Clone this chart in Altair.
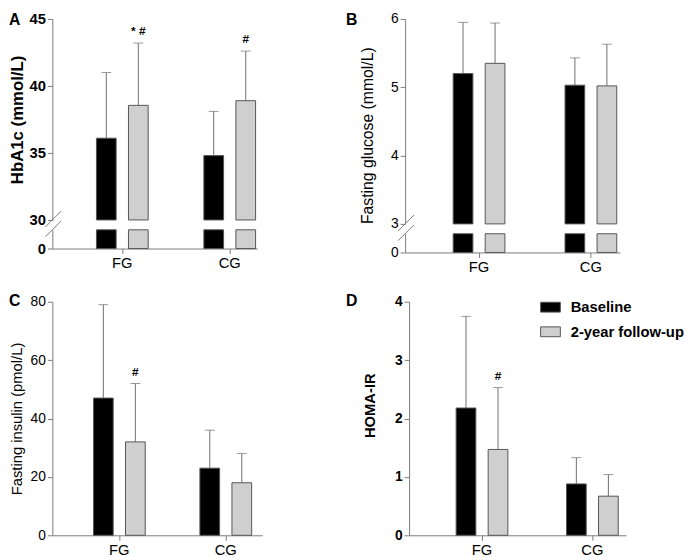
import altair as alt
import pandas as pd

# ---------------- data ----------------
groups = ["FG", "CG"]
series = ["Baseline", "2-year follow-up"]

hba1c_base = [36.1, 34.8]
hba1c_base_sd = [4.9, 3.3]
hba1c_follow = [38.55, 38.9]
hba1c_follow_sd = [4.65, 3.7]
hba1c_sig = ["* #", "#"]

glu_base = [5.20, 5.03]
glu_base_sd = [0.75, 0.40]
glu_follow = [5.35, 5.02]
glu_follow_sd = [0.59, 0.61]
glu_sig = ["", ""]

ins_base = [47, 23]
ins_base_sd = [32, 13]
ins_follow = [32, 18]
ins_follow_sd = [20, 10]
ins_sig = ["#", ""]

homa_base = [2.18, 0.88]
homa_base_sd = [1.57, 0.45]
homa_follow = [1.47, 0.67]
homa_follow_sd = [1.06, 0.37]
homa_sig = ["#", ""]

# ---------------- style ----------------
FONT = "Liberation Sans"
AX_COL = "#7a7a7a"
ERR_COL = "#6e6e6e"
EDGE = "#555555"
FILLS = ["#000000", "#cfcfcf"]
BAR_W = 20
PAIR = 32.5


def make_df(base, base_sd, follow, follow_sd, sig):
    rows = []
    for i, g in enumerate(groups):
        rows.append(dict(group=g, series=series[0], mean=base[i],
                         upper=base[i] + base_sd[i], sig=""))
        rows.append(dict(group=g, series=series[1], mean=follow[i],
                         upper=follow[i] + follow_sd[i], sig=sig[i]))
    return pd.DataFrame(rows)


def x_encs(width, fg_center, step, show_axis):
    pi2 = 1 - BAR_W / PAIR
    band = PAIR * (2 - pi2)
    pi = 1 - band / step
    po = (width / step - 2 + pi) / 2
    free = width - step * (2 - pi)
    align = (fg_center - band / 2) / free
    if show_axis:
        axis = alt.Axis(title=None, labelAngle=0, labelFontSize=15, labelColor="black",
                        labelPadding=2, tickSize=5, tickColor=AX_COL, domainColor=AX_COL)
    else:
        axis = None
    x = alt.X("group:N", sort=groups, axis=axis,
              scale=alt.Scale(paddingInner=pi, paddingOuter=po, align=align))
    xo = alt.XOffset("series:N", sort=series,
                     scale=alt.Scale(paddingInner=pi2, paddingOuter=0))
    return x, xo


def color_enc(show_legend):
    if show_legend:
        leg = alt.Legend(title=None, orient="none", legendX=133, legendY=-5,
                         symbolType="M-1,-0.5L1,-0.5L1,0.5L-1,0.5Z", symbolSize=400,
                         symbolStrokeColor=EDGE, symbolStrokeWidth=1, symbolOpacity=1,
                         labelFontSize=15, labelFontWeight="bold", labelColor="black",
                         labelOffset=10, rowPadding=6)
    else:
        leg = None
    return alt.Color("series:N", sort=series,
                     scale=alt.Scale(domain=series, range=FILLS), legend=leg)


def y_axis(values, title, bold, label_size, title_size, title_pad, title_y=None):
    kw = dict(values=values, title=title, grid=False, format="d",
              domainColor=AX_COL, tickColor=AX_COL, tickSize=5, labelPadding=2,
              labelFontSize=label_size, labelFontWeight="bold" if bold else "normal",
              labelColor="black", titleFontSize=title_size,
              titleFontWeight="bold" if bold else "normal", titleColor="black",
              titlePadding=title_pad)
    if title_y is not None:
        kw["titleY"] = title_y
    return alt.Axis(**kw)


def letter(t, x, y):
    return alt.Chart(pd.DataFrame({"t": [t]})).mark_text(
        align="left", baseline="top", fontSize=16, fontWeight="bold", color="black"
    ).encode(x=alt.value(x), y=alt.value(y), text="t:N")


def data_layers(df, xe, yscale, yax, lo, show_legend=False):
    x, xo = xe
    Y = lambda f: alt.Y(f, scale=yscale, axis=yax)
    bars = alt.Chart(df).mark_bar(stroke=EDGE, strokeWidth=1).encode(
        x=x, xOffset=xo, y=Y("mean:Q"), y2=alt.datum(lo), color=color_enc(show_legend))
    err = alt.Chart(df).mark_rule(color=ERR_COL, strokeWidth=1).encode(
        x=x, xOffset=xo, y=Y("mean:Q"), y2="upper:Q")
    cap = alt.Chart(df).mark_tick(color=ERR_COL, size=10, thickness=1).encode(
        x=x, xOffset=xo, y=Y("upper:Q"))
    sig = alt.Chart(df).transform_filter("datum.sig != ''").mark_text(
        baseline="bottom", dy=-5, fontSize=12, fontWeight="bold", color="black").encode(
        x=x, xOffset=xo, y=Y("upper:Q"), text="sig:N")
    return [bars, err, cap, sig]


def slash(val, yscale, yax):
    return alt.Chart(pd.DataFrame({"v": [val]})).mark_rule(
        color=AX_COL, strokeWidth=1, yOffset=7, y2Offset=-9
    ).encode(x=alt.value(-7), x2=alt.value(9),
             y=alt.Y("v:Q", scale=yscale, axis=yax), y2="v:Q")


def broken_panel(df, width, fg_center, step, lo, hi, ticks, title, bold,
                 label_size, title_size, title_pad, up_h, let, let_x, title_y=None):
    up_scale = alt.Scale(domain=[lo, hi], zero=False, nice=False)
    up_ax = y_axis(ticks, title, bold, label_size, title_size, title_pad, title_y)
    up = alt.layer(
        *data_layers(df, x_encs(width, fg_center, step, False), up_scale, up_ax, lo),
        slash(lo, up_scale, up_ax),
        letter(let, let_x, -7),
    ).properties(width=width, height=up_h)

    low_scale = alt.Scale(domain=[0, 1], nice=False)
    low_ax = y_axis([0], None, bold, label_size, title_size, 0)
    x, xo = x_encs(width, fg_center, step, True)
    # lower stub of each bar: from 0 up to the top of the lower axis segment
    low_bars = alt.Chart(df).mark_bar(stroke=EDGE, strokeWidth=1).encode(
        x=x, xOffset=xo, y=alt.Y(datum=1, scale=low_scale, axis=low_ax),
        y2=alt.datum(0), color=color_enc(False))
    low = alt.layer(low_bars, slash(1, low_scale, low_ax)).properties(width=width, height=19)
    return alt.vconcat(up, low, spacing=10, bounds="flush")


def plain_panel(df, width, fg_center, step, hi, ticks, title, bold, label_size,
                title_size, title_pad, h, let, let_x, let_y, title_y=None, show_legend=False):
    sc = alt.Scale(domain=[0, hi], nice=False)
    ax = y_axis(ticks, title, bold, label_size, title_size, title_pad, title_y)
    return alt.layer(
        *data_layers(df, x_encs(width, fg_center, step, True), sc, ax, 0, show_legend),
        letter(let, let_x, let_y),
    ).properties(width=width, height=h)


dfA = make_df(hba1c_base, hba1c_base_sd, hba1c_follow, hba1c_follow_sd, hba1c_sig)
dfB = make_df(glu_base, glu_base_sd, glu_follow, glu_follow_sd, glu_sig)
dfC = make_df(ins_base, ins_base_sd, ins_follow, ins_follow_sd, ins_sig)
dfD = make_df(homa_base, homa_base_sd, homa_follow, homa_follow_sd, homa_sig)

A = broken_panel(dfA, 208, 71, 109, 30, 45, [30, 35, 40, 45], "HbA1c (mmol/L)", True,
                 15, 17, 3, 204, "A", -44)
B = broken_panel(dfB, 218, 75, 113.5, 3, 6, [3, 4, 5, 6], "Fasting glucose (mmol/L)", False,
                 14, 16, 15, 208, "B", -60, title_y=118)
C = plain_panel(dfC, 213, 68, 108, 80, [0, 20, 40, 60, 80], "Fasting insulin (pmol/L)", False,
                14, 15, 6, 237, "C", -44, -9)
D = plain_panel(dfD, 220, 74, 112, 4, [0, 1, 2, 3, 4], "HOMA-IR", True,
                14, 15, 17, 237, "D", -64, -9, title_y=105, show_legend=True)

row2 = alt.hconcat(C, D, spacing=85).resolve_scale(color="independent")
chart = alt.vconcat(
    alt.hconcat(A, B, spacing=90),
    row2,
    spacing=19,
).resolve_scale(color="independent").properties(padding=0).configure(
    font=FONT).configure_view(stroke=None)

chart.save("out.html", embed_options={"renderer": "svg", "actions": False})
